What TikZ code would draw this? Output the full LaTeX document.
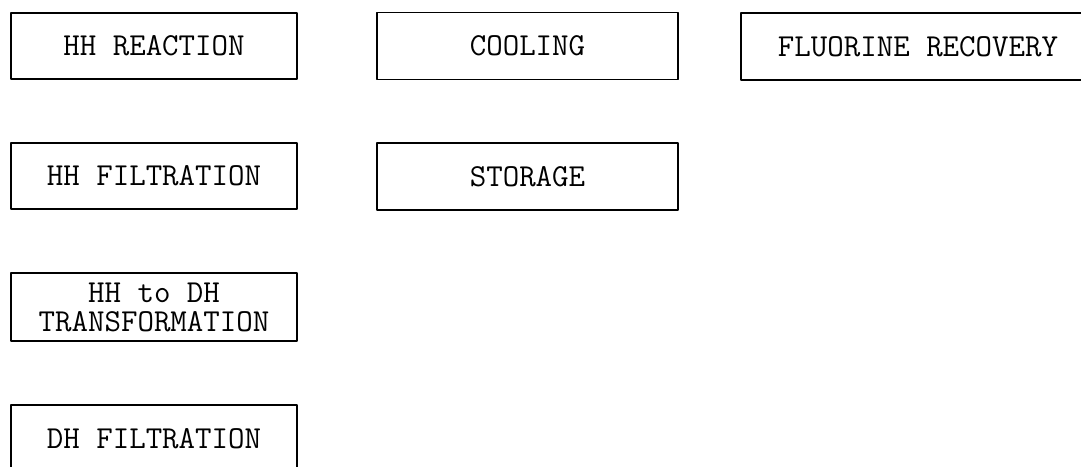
\documentclass[tikz,border=0pt]{standalone}
\begin{document}
\begin{tikzpicture}[x=1pt,y=-1pt,line join=round,
		stage/.style={draw,line width=1.6pt,minimum width=286pt,minimum height=66pt,inner sep=0pt,align=center,font=\ttfamily\fontsize{32}{29}\selectfont},
		widestage/.style={stage,minimum width=301pt,minimum height=67pt}]
			\useasboundingbox (0,0) rectangle (1081,466);
			\clip (0,0) rectangle (1081,466);
			% first column
			\node[stage] (reaction) at (154,46) {HH REACTION};
			\node[stage] (hhfilt) at (154,176) {HH FILTRATION};
			\node[stage,minimum height=68pt] (transform) at (154,307) {HH to DH\\TRANSFORMATION};
			\node[stage,minimum height=68pt] (dhfilt) at (154,439) {DH FILTRATION};
			% second column
			\node[widestage] (cooling) at (527.5,46) {COOLING};
			\node[widestage] (storage) at (527.5,176.5) {STORAGE};
			% third column
			\node[stage,minimum width=354pt,minimum height=67pt] (fluorine) at (918,46.5) {FLUORINE RECOVERY};
	\end{tikzpicture}
\end{document}
